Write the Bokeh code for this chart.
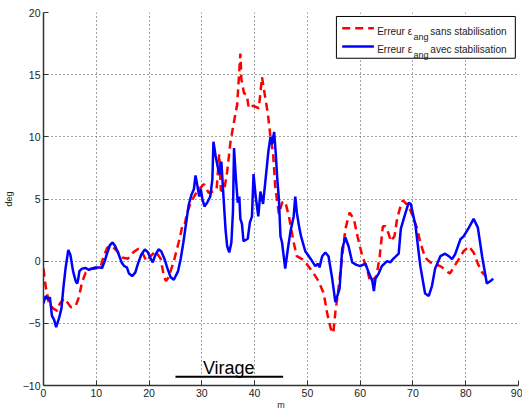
from bokeh.plotting import figure
from bokeh.models import Range1d, FixedTicker, Label, BoxAnnotation, Arrow
from bokeh.embed import file_html
from bokeh.resources import INLINE

# ---- data (distance in m, error in deg) ----
dist_sans = [0.0, 0.4, 1.0, 1.8, 2.6, 3.1, 3.9, 4.5, 5.2, 6.1, 6.7, 7.3, 8.0, 8.9, 9.8, 10.8,
             11.4, 12.1, 13.0, 14.0, 14.9, 16.0, 17.1, 18.0, 18.7, 19.5, 20.3, 21.2, 22.2,
             22.8, 23.2, 23.7, 24.7, 25.6, 26.3, 26.7, 27.2, 28.0, 28.8, 29.7, 30.4, 31.3,
             32.2, 32.8, 33.3, 33.6, 34.2, 34.8, 35.4, 36.0, 36.7, 37.3, 37.5, 38.0, 38.5,
             38.9, 39.7, 40.8, 41.4, 42.0, 42.5, 43.0, 43.5, 43.9, 44.6, 45.2, 45.8, 46.5,
             47.4, 48.0, 49.0, 49.9, 51.2, 52.1, 53.1, 53.7, 54.4, 54.9, 55.3, 55.9, 56.6,
             57.2, 58.0, 58.8, 59.5, 60.4, 61.3, 61.9, 62.6, 63.1, 63.7, 64.3, 64.8, 65.4,
             65.8, 66.5, 67.0, 67.5, 68.1, 69.2, 70.0, 70.8, 71.4, 72.3, 73.3, 74.2, 75.2,
             76.1, 77.0, 77.7, 78.7, 79.6, 80.6, 81.5, 82.3, 83.1, 83.8]
err_sans = [-0.6, -2.0, -3.3, -3.8, -4.0, -3.4, -3.0, -3.3, -3.7, -3.6, -2.9, -1.7, -0.9, -0.6,
            -0.6, -0.5, 0.4, 1.1, 1.2, 0.8, 0.3, 0.2, 0.75, 1.0, 0.7, 0.0, 0.4, 0.8, 0.2, -1.2,
            -1.6, -1.3, 0.0, 1.5, 2.8, 2.8, 3.9, 4.8, 5.4, 5.9, 6.2, 5.5, 5.6, 5.8, 8.6, 5.7,
            5.6, 7.2, 9.5, 11.0, 12.6, 16.7, 14.6, 13.5, 13.4, 12.3, 12.5, 12.3, 14.8, 13.2,
            11.9, 10.0, 8.7, 6.0, 3.8, 4.7, 4.8, 3.6, 1.5, 0.4, 0.16, -0.24, -1.0, -1.6, -2.6,
            -4.1, -5.4, -5.8, -4.1, -2.2, 0.4, 2.6, 3.9, 3.4, 2.0, 0.4, -0.6, -1.7, -1.4, -1.2,
            0.4, 2.8, 2.8, 2.2, 1.6, 2.0, 3.4, 4.2, 4.9, 4.4, 3.6, 2.6, 1.5, 0.3, -0.1, -0.24,
            -0.4, -0.7, -1.0, -0.5, 0.16, 0.8, 1.2, 0.7, -0.2, -0.9, -1.2]

dist_avec = [0.0, 0.4, 0.9, 1.2, 1.6, 2.0, 2.4, 3.0, 3.4, 3.8, 4.2, 4.7, 5.1, 5.6, 6.1, 6.4,
             6.6, 6.8, 7.3, 8.0, 8.6, 9.2, 9.8, 10.6, 11.1, 11.6, 12.1, 12.6, 13.1, 13.6, 14.2,
             14.8, 15.3, 15.8, 16.2, 16.8, 17.4, 17.9, 18.5, 19.2, 19.8, 20.3, 20.7, 21.2, 21.8,
             22.3, 22.9, 23.5, 24.1, 24.7, 25.5, 26.0, 26.5, 27.0, 27.5, 28.0, 28.5, 28.8, 29.1,
             29.5, 29.8, 30.1, 30.5, 31.0, 31.6, 32.0, 32.2, 32.6, 33.0, 33.4, 33.7, 34.1, 34.5,
             34.8, 35.2, 35.6, 35.9, 36.1, 36.4, 36.8, 37.1, 37.3, 37.6, 37.9, 38.7, 39.1, 39.5,
             39.8, 40.2, 40.7, 41.1, 41.6, 42.2, 42.6, 43.0, 43.3, 43.7, 44.0, 44.3, 44.6, 44.9,
             45.2, 45.8, 46.3, 46.8, 47.4, 47.7, 48.0, 48.5, 48.8, 49.6, 50.6, 51.5, 52.0, 52.3,
             52.8, 53.4, 54.0, 54.7, 55.3, 56.1, 56.6, 57.2, 57.8, 58.5, 59.3, 60.0, 61.0, 61.6,
             62.3, 62.6, 62.9, 63.5, 64.1, 65.1, 65.7, 66.3, 67.3, 67.7, 68.6, 69.2, 69.6, 70.5,
             71.4, 72.3, 73.0, 73.6, 74.2, 75.2, 76.1, 76.8, 77.4, 78.0, 79.0, 79.6, 80.6, 81.5,
             82.3, 83.1, 84.0, 84.7, 85.2]
err_avec = [-3.4, -2.8, -3.1, -2.9, -4.4, -4.7, -5.3, -4.5, -3.8, -2.0, -0.5, 0.9, 0.5, -0.8,
            -1.6, -1.8, -1.4, -0.8, -0.6, -0.55, -0.7, -0.6, -0.5, -0.5, -0.55, 0.0, 0.7, 1.3,
            1.5, 1.2, 0.6, -0.1, -0.4, -0.5, -1.0, -1.2, -0.9, -0.2, 0.5, 0.95, 0.7, 0.2, -0.1,
            0.5, 0.95, 0.8, 0.2, -0.6, -1.3, -1.5, -0.8, 0.2, 1.5, 3.0, 4.5, 5.3, 5.8, 6.9, 6.2,
            5.2, 5.8, 5.0, 4.4, 4.7, 5.2, 6.6, 9.6, 8.5, 7.6, 7.0, 8.0, 5.2, 2.5, 1.2, 0.7, 1.5,
            4.0, 9.1, 7.0, 4.7, 5.2, 3.4, 3.0, 1.6, 1.8, 3.1, 3.6, 7.0, 5.2, 3.6, 5.6, 4.6, 7.1,
            8.8, 10.0, 9.4, 10.4, 8.7, 6.6, 5.0, 2.0, 1.5, -0.6, 1.0, 2.4, 3.6, 5.2, 3.9, 2.6,
            2.0, 0.8, 0.2, -0.4, -0.2, -0.5, 0.4, 0.7, 0.4, -1.4, -3.3, -2.2, 1.0, 1.9, 1.2,
            -0.1, -0.3, -0.4, -0.2, -0.9, -1.6, -2.4, -1.4, -1.0, -0.4, 0.0, -0.1, 0.2, 0.6,
            2.6, 3.9, 4.7, 4.6, 2.8, -0.4, -2.6, -2.8, -2.0, -0.6, 0.4, 0.6, 0.4, 0.16, 0.56,
            1.76, 2.0, 2.7, 3.4, 2.7, 0.4, -1.8, -1.6, -1.4]

x_ticks = [0, 10, 20, 30, 40, 50, 60, 70, 80, 90]
y_ticks = [-10, -5, 0, 5, 10, 15, 20]

legend_prefix = "Erreur \u03b5"
legend_sub = "ang"
legend_suffixes = ["sans stabilisation", "avec stabilisation"]
legend_colors = ["#ff0000", "#0000ff"]
legend_dashes = ["8 5", "solid"]

FONT = "Liberation Sans"
TXT = "#222222"

p = figure(width=522, height=412, x_range=Range1d(0, 90), y_range=Range1d(-10, 20),
           output_backend="svg", toolbar_location=None,
           min_border_left=43, min_border_right=4, min_border_top=12, min_border_bottom=25,
           x_axis_label="m", y_axis_label="deg")
p.outline_line_color = None
p.background_fill_color = "white"
p.border_fill_color = "white"

p.xaxis.ticker = FixedTicker(ticks=x_ticks)
p.yaxis.ticker = FixedTicker(ticks=y_ticks)
for ax in (p.xaxis, p.yaxis):
    ax.axis_line_color = "#333333"
    ax.axis_line_width = 1.5
    ax.major_tick_in = 5
    ax.major_tick_out = 0
    ax.major_tick_line_color = "#333333"
    ax.minor_tick_line_color = None
    ax.major_label_text_font = FONT
    ax.major_label_text_font_size = "10.5px"
    ax.major_label_text_color = TXT
    ax.axis_label_text_font = FONT
    ax.axis_label_text_font_size = "9px"
    ax.axis_label_text_font_style = "normal"
    ax.axis_label_text_color = TXT
    ax.major_label_standoff = 3
p.xaxis.axis_label_standoff = 0
p.yaxis.axis_label_standoff = 6

p.grid.grid_line_color = "#444444"
p.grid.grid_line_dash = "1 3"
p.grid.grid_line_width = 1

r_sans = p.line(dist_sans, err_sans, line_color=legend_colors[0], line_width=2.5,
                line_dash=legend_dashes[0])
r_avec = p.line(dist_avec, err_avec, line_color=legend_colors[1], line_width=2.5)

# ---- legend box (drawn by hand so that the subscript can be set) ----
LEG_LEFT, LEG_RIGHT, LEG_TOP, LEG_BOTTOM = 55.5, 89.4, 19.68, 16.32
LEG_LINE_X0, LEG_LINE_X1 = 56.6, 62.6
LEG_ROW_LINE_Y = [18.74, 17.26]
LEG_ROW_BASE_Y = [18.48, 17.02]
LEG_SUB_BASE_Y = [18.02, 16.56]
LEG_PREFIX_X, LEG_SUB_X, LEG_SUFFIX_X = 63.22, 70.1, 73.3

p.add_layout(BoxAnnotation(left=LEG_LEFT, right=LEG_RIGHT, top=LEG_TOP, bottom=LEG_BOTTOM,
                           fill_color="white", fill_alpha=1.0, line_color="black",
                           line_width=1, line_alpha=1.0))
for i in range(2):
    p.add_layout(Arrow(x_start=LEG_LINE_X0, y_start=LEG_ROW_LINE_Y[i],
                       x_end=LEG_LINE_X1, y_end=LEG_ROW_LINE_Y[i], end=None, start=None,
                       line_color=legend_colors[i], line_width=2.5, line_dash=legend_dashes[i]))
    p.add_layout(Label(x=LEG_PREFIX_X, y=LEG_ROW_BASE_Y[i], text=legend_prefix, text_font=FONT,
                       text_font_size="10px", text_color=TXT, text_baseline="alphabetic",
                       text_align="left"))
    p.add_layout(Label(x=LEG_SUB_X, y=LEG_SUB_BASE_Y[i], text=legend_sub, text_font=FONT,
                       text_font_size="9px", text_color=TXT, text_baseline="alphabetic",
                       text_align="left"))
    p.add_layout(Label(x=LEG_SUFFIX_X, y=LEG_ROW_BASE_Y[i], text=legend_suffixes[i],
                       text_font=FONT, text_font_size="10px", text_color=TXT,
                       text_baseline="alphabetic", text_align="left"))

# ---- "Virage" annotation ----
VIRAGE_START, VIRAGE_END, VIRAGE_Y = 25.0, 45.4, -9.3
VIRAGE_TEXT_X, VIRAGE_TEXT_Y = 35.1, -8.6
p.segment(x0=[VIRAGE_START], y0=[VIRAGE_Y], x1=[VIRAGE_END], y1=[VIRAGE_Y],
          line_color="black", line_width=2)
p.add_layout(Label(x=VIRAGE_TEXT_X, y=VIRAGE_TEXT_Y, text="Virage", text_font=FONT,
                   text_font_size="18px", text_color="black", text_align="center",
                   text_baseline="alphabetic"))

open("out.html", "w").write(file_html(p, INLINE))
